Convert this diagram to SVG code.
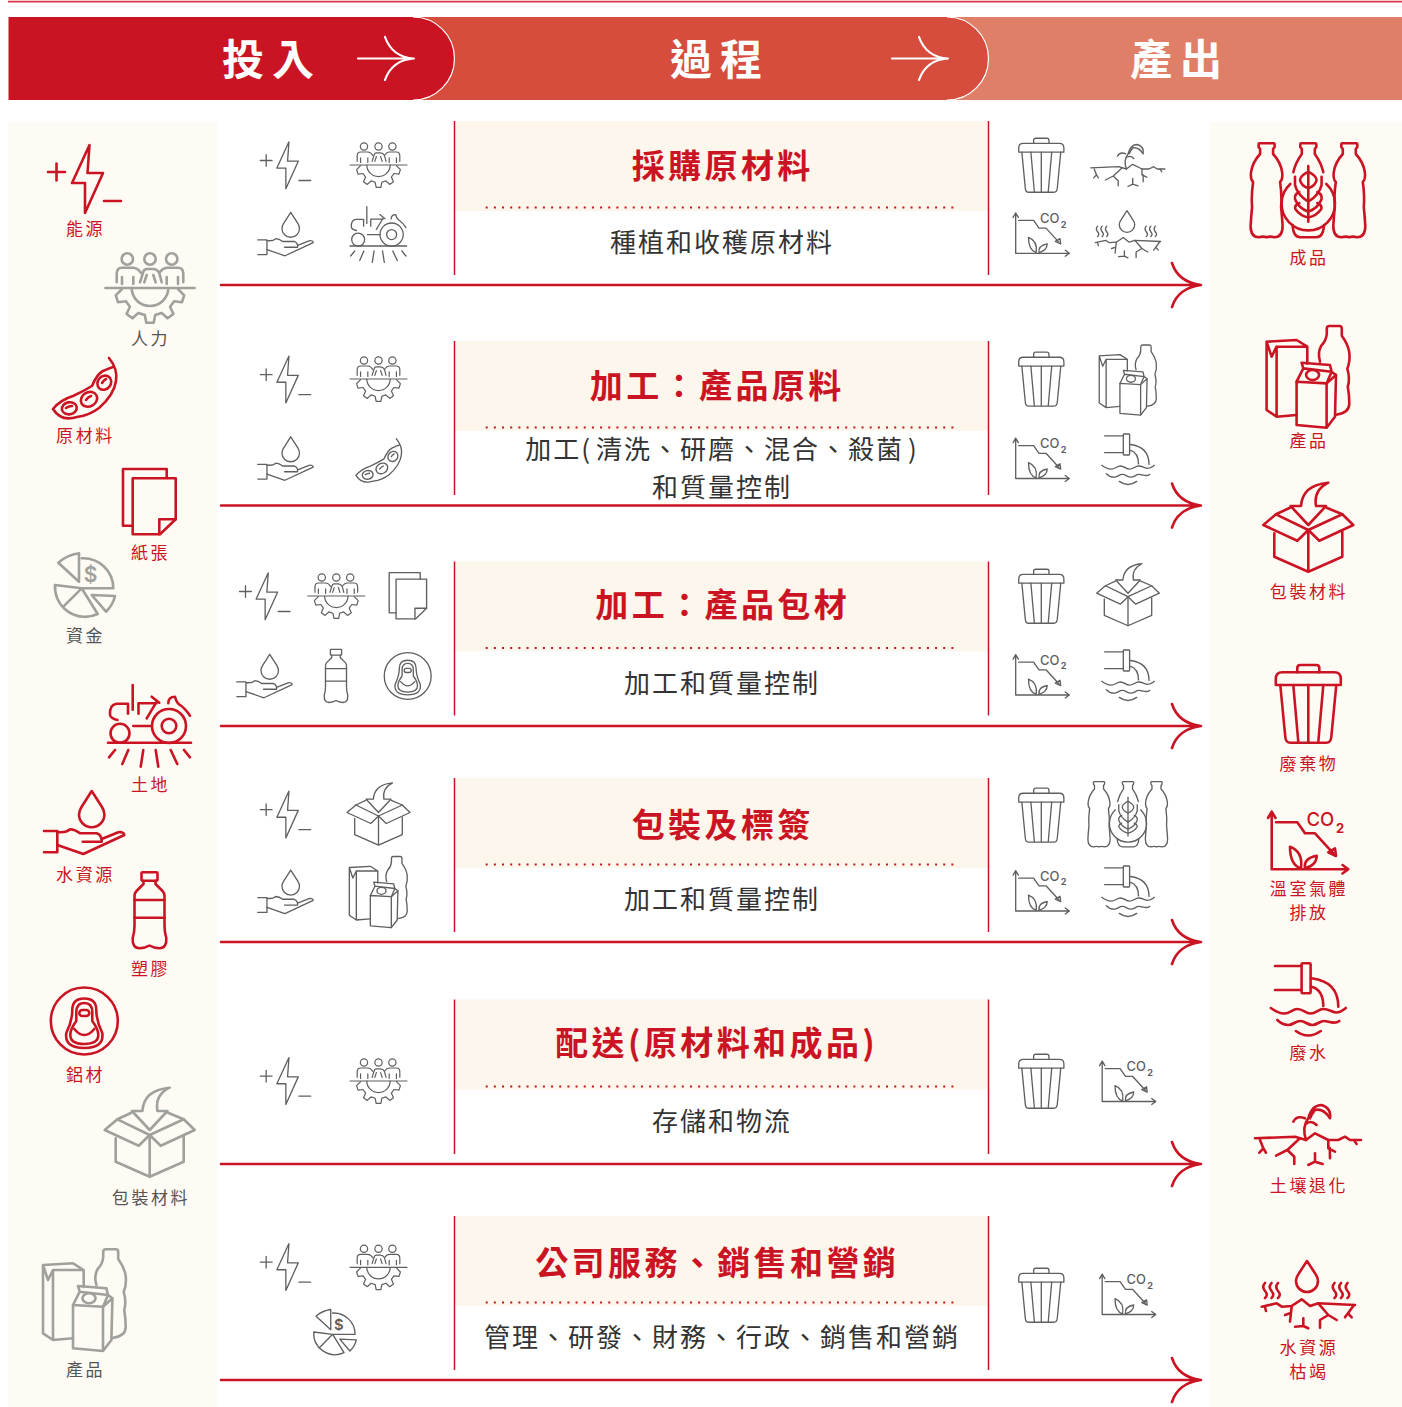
<svg xmlns="http://www.w3.org/2000/svg" xmlns:xlink="http://www.w3.org/1999/xlink" width="1402" height="1407" viewBox="0 0 1402 1407">
<style>
text{font-family:"Noto Sans CJK TC","Noto Sans",sans-serif}
.hd{font-size:42px;font-weight:700;fill:#fff;letter-spacing:8px;text-anchor:middle}
.ti{font-size:33px;font-weight:700;fill:#cb1423;letter-spacing:3.4px;text-anchor:middle}
.su{font-size:26px;fill:#333;letter-spacing:2px;text-anchor:middle;transform:translateY(-.6px)}
.lb{font-size:17px;letter-spacing:2.6px;text-anchor:middle;transform:translateY(-.7px)}
.lr{fill:#cb1423}.lg{fill:#555}
.ic{fill:none;stroke:currentColor;stroke-linecap:round;stroke-linejoin:round}
.b{stroke-width:2.6}.s{stroke-width:1.9}
.r{color:#cb1423}.g{color:#a0a09c}.d{color:#5f5f5f}
.co{font-family:"Inter","Open Sans",sans-serif;stroke:none;fill:currentColor}
.v{stroke:#cb1423;stroke-width:1.5;fill:none}
.dot{stroke:#cb1423;stroke-width:2;stroke-dasharray:2 6.17;fill:none}
.blk{fill:#fdf6ec}
.pan{fill:#fefbf5}
.ha{fill:none;stroke:#fff;stroke-width:2.2;stroke-linecap:round}
.rl{fill:none;stroke:#cb1423;stroke-width:2.6;stroke-linecap:round}
</style>
<defs>
<g id="i-energy"><path d="M5,-34 L-12.5,4 H.5 V34 L18.5,-6 H3 Z"/><path d="M-36.5,-7 H-19.5 M-28,-15.5 V1.5 M19.5,22 H36.5"/></g>
<g id="i-people"><path d="M-44.5,0 H44.5"/><circle cx="-22.7" cy="-29" r="5.7"/><circle cx="0" cy="-29" r="5.7"/><circle cx="21.7" cy="-29" r="5.7"/>
<path d="M-33.3,-5.7 V-14.7 Q-33,-20.3 -28,-20.3 H-16.7 Q-12,-20 -9,-15 M-28,-11 V-4 M-16.7,-11 V-4"/><path d="M-10,-5.7 L-6.7,-16 Q-6,-19 -3,-19 H3 Q7,-19 9.3,-15 L11.7,-5.700 M-3.300,-13 L-5.700,-5.700 M3.300,-13 L5.700,-5.700"/><path d="M33.300,-5.700 V-14.700 Q33,-20.300 28,-20.300 H16.700 Q13,-20 10,-16 M28,-11 V-4 M16.700,-11 V-4"/>
<path d="M-18.300,0 A18.300,18 0 0 0 18.300,0"/><path d="M28,1 L34.2,7.3 32,14.2 24.1,13.3 20.1,18.8 23.4,26 17.5,30.3 11.6,24.9 5.2,27 3.7,34.8 -3.7,34.8 -5.2,27 -11.6,24.9 -17.5,30.3 -23.4,26 -20.1,18.8 -24.1,13.3 -32,14.2 -34.2,7.3 -28,1"/></g>
<g id="i-bean"><path d="M24,-31 Q33,-20 31,-8 Q29,6 14,19 Q5,26 -8,28 Q-24,33 -32,20 Q-25,11 -12,7 Q-3,3 7,-3 Q12,-15 18,-18 Q25,-21 28,-22"/><ellipse cx="-15.7" cy="19.3" rx="7.5" ry="6" transform="rotate(-10 -15.7 19.3)"/><ellipse cx="4" cy="10.3" rx="8.5" ry="7" transform="rotate(-30 4 10.3)"/><ellipse cx="19.3" cy="-6.3" rx="7.5" ry="6.5" transform="rotate(-50 19.3 -6.3)"/><path d="M-19,19 Q-16,17 -13,17 M1,11 Q3,8 6,7 M17,-6 Q19,-9 21,-10"/></g>
<g id="i-paper"><path d="M17.2,-24 V-33 H-26.5 V23.7 H-17"/><path d="M-16.8,-23.7 H26.2 V17.3 L10.5,32.3 H-16.8 Z"/><path d="M26.2,17.3 H9.8 V32.3"/></g>
<g id="i-pie"><path d="M-5,-3.3 L-25.7,-22.3 Q-17,-30 -5,-31.7 Z"/><path d="M-2.3,-26.7 A30,30 0 0 1 29.3,3.3 H-2.3 L-29,0 A30,30 0 0 0 13.7,29 L-2.3,3.3 L-20.7,21.7"/><path d="M7.7,10 L31,11 Q29,20 22,26.7 Z"/><text class="co" x="6.5" y="-3.500" font-size="21" font-weight="600" text-anchor="middle">$</text></g>
<g id="i-tractor"><path d="M-41.5,0 H41.5"/><circle cx="19.5" cy="-16.7" r="17"/><circle cx="19.5" cy="-16.7" r="7.3"/><circle cx="-29.5" cy="-9.4" r="9.5"/><path d="M-16.2,-16.7 H2.2"/><path d="M-32,-22.7 Q-39,-24 -39.5,-28 Q-40,-38 -33,-39 H-21.5 V-29"/><path d="M-16.8,-57.7 V-33 M-11,-29 V-39.4 H7 M2.2,-46 L9.8,-40 M-2.8,-24.4 L7.2,-41"/><path d="M18.8,-39.4 Q18.8,-46 25.5,-46 Q27.2,-39.4 30.5,-37.7 Q35.5,-34.4 40.5,-27"/><path d="M-34.5,7.3 L-40.5,14.6 M-21.2,7.3 L-27.2,21.3 M-6.2,7.3 L-8.8,24 M6.2,7.3 L8.8,24 M21.2,7.3 L27.8,21.3 M34.5,7.3 L40.5,14.6"/></g>
<g id="i-hand"><path d="M7.7,-39 L-2.5,-23 Q-5,-19 -5,-15.5 A12.7,12.7 0 0 0 20.4,-15.5 Q20.4,-19 18,-23 Z"/><path d="M-40,1 H-26.7 V22.3 H-40"/><path d="M-26.7,2 Q-18,3 -14,-.7 Q-9,-.5 -4,3.3 H12.7 Q18,5 17.7,11.7 H-1.3"/><path d="M17.7,9 L34.3,2.3 Q40,1.5 40.3,5 L-.7,24 L-26.7,15"/></g>
<g id="i-bottle"><rect x="-8" y="-37.7" width="16" height="8.4" rx="1"/><path d="M-6,-29.3 V-26 L-13,-19 Q-15,-17 -15,-14 V16 Q-15,22 -16.8,28 Q-17.5,38 -10,38.3 Q-4,38 0,35.5 Q4,38 10,38.3 Q17.5,38 16.8,28 Q15,22 15,16 V-14 Q15,-17 13,-19 L6,-26 V-29.3"/><path d="M-15,-10 H15 M-15,7.7 H15"/></g>
<g id="i-can"><circle r="33.5"/><path d="M0,-22.5 Q-12,-22.5 -12,-11 Q-12,0 -18,12 Q-20,27 0,27 Q20,27 18,12 Q12,0 12,-11 Q12,-22.5 0,-22.5 Z"/><path d="M0,-18 Q-8,-18 -8,-9 V0 Q-14,8 -14,14 Q-14,23 0,23 Q14,23 14,14 Q14,8 8,0 V-9 Q8,-18 0,-18 Z"/><rect x="-5" y="-11" width="10" height="6" rx="3"/><path d="M-10,8 Q0,20 10,8"/></g>
<g id="i-box"><path d="M-34,3.3 V26.7 L0,41.7 L34,26.7 V1.7 M0,0 V41.7"/><path d="M0,0 L-11,10.7 L-45,-5 L-32.3,-15.7 L0,0 M0,0 L11,10.7 L45,-5 L34,-15.7 L0,0"/><path d="M-32.3,-15.7 L-18.3,-22.3 M34,-15.7 L18.3,-22.3"/><path d="M0,-5 L-17.7,-24 H-7.3 Q-6,-45 20,-47.3 Q5,-40 7.7,-24 H17.7 Z"/></g>
<g id="i-trash"><path d="M-11,-27.7 V-32 Q-11,-35 -8,-35 H8 Q11,-35 11,-32 V-27.7"/><path d="M-32.5,-15 V-21 Q-32.5,-27.7 -26,-27.7 H26 Q32.5,-27.7 32.5,-21 V-15 Z"/><path d="M-28,-15 L-23,37 Q-22.5,42.7 -18,42.7 H18 Q22.5,42.7 23,37 L28,-15"/><path d="M-15,-15 L-10,42 M0,-15 V42 M15,-15 L10,42"/></g>
<g id="i-co2"><path d="M-38.3,29.3 V-28.3 M-42,-22 L-38.3,-28.3 L-34.5,-22 M-38.3,29.3 H38.3 M32.5,25 L38.3,29.3 L32.5,33.5"/><path d="M-34,-17.7 H-12.7 L-5,-6.7 H5 L23.3,13.3"/><path d="M26,16 L18.3,12.3 L25,8.3 Z"/><path d="M-9,28.3 Q-20,25 -20,6.7 Q-6.7,11.7 -9,28.3 Z"/><path d="M-5,28.3 Q-6.7,18.3 6.7,15.7 Q6.7,25 -5,28.3 Z"/><text class="co" x="-3.500" y="-13.800" font-size="18.500" font-weight="500">CO</text><text class="co" x="26" y="-7.200" font-size="13" font-weight="700">2</text></g>
<g id="i-waste"><path d="M-33.3,-32 H-6.7 M-33.3,-8 H-6.7"/><rect x="-6.7" y="-34.7" width="9" height="30" rx="1"/><path d="M3.3,-19.7 Q30,-16.3 30,8.7 M3.3,-11.3 Q15,-8 15,8"/><path d="M-37.5,10 C-32,14 -28,15.5 -24,15.5 C-18,15.5 -16,11 -11,11 C-5,11 -3,15.5 2,15.5 C8,15.5 10,11 15,11 C21,11 24,14.5 28,14.5 C32,14.5 35,12 37.5,10"/><path d="M-31,22 C-27,26 -24,27 -20,27 C-15,27 -13,23 -8,23 C-3,23 -1,27 4,27 C9,27 11,23 16,23 C20,23 26,27 31,23"/><path d="M-12.5,33 Q0,42 12.5,33"/></g>
<g id="i-soil"><path d="M-53.3,-1.7 L-13.3,-3.3 L-2.3,0 L6.7,-6.7 L20,0 H30 L36.7,-3.3 L41.7,0 H52.7"/><path d="M-48.3,0 L-45,8.3 L-49,12.7 M-45,8.3 L-42.3,12.7"/><path d="M-8.3,-1.7 L-21,10 L-32.3,15.7 M-21,10 L-14,16.7 V24"/><path d="M6.7,13.3 V21.7 M0,25 L6.7,21.7 L14.3,24"/><path d="M20,0 V8.3 L26.7,11.7 M21.5,8 L21.7,18.3"/><path d="M45.7,0 L48.3,4"/><path d="M-2.3,0 Q-6.7,-13 0,-21.7 Q3.5,-35 13.3,-35 Q23.3,-31.7 21.7,-21.7 Q15,-32 6.7,-30 Q3.5,-26 1.7,-21.7"/><path d="M-15,-18.3 Q-11.7,-25 -3.3,-21.7 M-1.7,-16.7 Q3.3,-20 8.3,-15"/></g>
<g id="i-dep"><path d="M0,-44 L-8.5,-31 Q-11,-27.5 -11,-24 A11,11 0 0 0 11,-24 Q11,-27.5 8.5,-31 Z"/><path d="M-45.3,1.7 L-30.3,-1.7 L-25.3,1.7 L-15.3,1 L-5.3,-5.7 L3,1 L11.3,-1.7 L48,0"/><path d="M-15.3,1 L-17,16.7 M-17,8.3 L-22,10"/><path d="M-3.7,13.3 V21 M-12,21.7 L-3.7,21 L1.3,23.3"/><path d="M11.3,-1.7 L21.3,10 L13,15 V22.7 M21.3,10 L29.7,15"/><path d="M47,0 L41,8.3 L38,12.3 M41,8.3 L44.7,12.3"/><path d="M-42,2 L-41,6"/><path d="M-42,-22 q-3.500,4 0,8 q3.500,4 0,7 M-35.500,-22 q-3.500,4 0,8 q3.500,4 0,7 M-29,-22 q-3.500,4 0,8 q3.500,4 0,7 M27.500,-22 q-3.500,4 0,8 q3.500,4 0,7 M34,-22 q-3.500,4 0,8 q3.500,4 0,7 M40.500,-22 q-3.500,4 0,8 q3.500,4 0,7"/></g>
<path id="p-bot" d="M-8,-46 Q-8,-46.700 -7,-46.700 H7 Q8,-46.700 8,-46 V-43 L6.500,-41 V-36 Q14,-28 15.500,-18 Q16.500,-11 13.500,-8 Q15.500,6 14.500,17 Q15.500,27 16,36 Q16,47 8,47.300 Q3,46 0,47.300 Q-3,46 -8,47.300 Q-16,47 -16,36 Q-15.500,27 -14.500,17 Q-15.500,6 -13.500,-8 Q-16.500,-11 -15.500,-18 Q-14,-28 -6.500,-36 V-41 L-8,-43 Z"/>
<g id="i-bottles"><use href="#p-bot" x="-41.7"/><use href="#p-bot" x="41"/><path d="M-15,-17.700 Q-13,-27 -6.500,-36 V-41 L-8,-43 V-46 Q-8,-46.700 -7,-46.700 H7 Q8,-46.700 8,-46 V-43 L6.500,-41 V-36 Q13,-27 15,-17.700"/><path d="M-15.700,35 Q-15,47.300 -8,47.300 H8 Q15,47.300 15.700,35"/><path d="M0,-24 V31.700"/><path d="M0,-18.300 Q-8,-14 -8.300,-10 Q-7,-4 0,-1.700 Q7,-4 8.300,-10 Q8,-14 0,-18.300 Z"/><path d="M-13.300,-13.300 V-5 Q-11,5 0,11.700 Q11,5 13.300,-5 V-13.300"/><path d="M-9,2 Q-14,4 -13.300,9 Q-10,18 0,21.700 Q10,18 13.300,9 Q14,4 9,2"/><path d="M-9,13 Q-14,15 -13,19 Q-8,26 0,27.500 Q8,26 13,19 Q14,15 9,13"/><path d="M-18,-6 A26.700,26.700 0 1 0 18,-6"/></g>
<g id="i-prod"><path d="M-1,-13 V-30 L-11.7,-36.7 L-41.7,-35 V33.3 L-31.7,40 L-11.7,38.3 M-31.7,40 V-30 H-1 M-41.7,-35 L-36.7,-20 L-31.7,-30"/><path d="M-11.7,5 L18.3,6.7 V51 L-11.7,48.3 Z M18.3,6.7 L27.7,-1.7 L26.7,40 L18.3,51"/><path d="M-11.7,5 L-5,-8.3 L-6.7,-14 L21.7,-11.7 L23.3,-5 L18.3,6.7 M-5,-8.3 L23.3,-5 L27.7,-1.7"/><ellipse cx="4.3" cy="-1.7" rx="6.5" ry="5"/><path d="M11.7,-15 Q9,-24 13,-31 Q18,-36 18.5,-43 V-48 Q18.5,-50.7 21,-50.7 H31 Q33.5,-50.7 33.5,-48 V-41 Q40,-32 41,-24 Q42,-15 39,-8 Q42,2 39.5,10 Q41,18 41,27 Q41,36 28,38"/></g>
</defs>
<rect width="1402" height="1407" fill="#fff"/>
<path d="M8,1.7 H1402" stroke="#d9374a" stroke-width="1.7"/>
<g id="header">
<rect x="400" y="17" width="1002" height="83" fill="#e07f68"/>
<path d="M400,17 H947 A41.5,41.5 0 0 1 947,100 H400 Z" fill="#d64d3e"/>
<path d="M947,17 A41.5,41.5 0 0 1 947,100" fill="none" stroke="#fff" stroke-width="1.2"/>
<path d="M8.500,17 H413 A41.500,41.500 0 0 1 413,100 H8.500 Z" fill="#cb1423"/>
<path d="M413,17 A41.500,41.500 0 0 1 413,100" fill="none" stroke="#fff" stroke-width="1.2"/>
<text class="hd" x="272" y="75">投入</text>
<path class="ha" d="M358,58.500 H414 M385,37 Q392,57 414,58.500 Q392,60 385,80"/>
<text class="hd" x="720" y="75">過程</text>
<path class="ha" d="M892,58.500 H948 M919,37 Q926,57 948,58.500 Q926,60 919,80"/>
<text class="hd" x="1180" y="75">產出</text>
</g>
<rect class="pan" x="8" y="122" width="209" height="1285"/>
<rect class="pan" x="1210" y="122" width="192" height="1285"/>

<g id="input-energy"><use href="#i-energy" class="ic b r" transform="translate(84.500,179)"/><text class="lb lr" x="85.500" y="236">能源</text></g>
<g id="input-labour"><use href="#i-people" class="ic b g" transform="translate(150,288)"/><text class="lb lg" x="150.500" y="346">人力</text></g>
<g id="input-material"><use href="#i-bean" class="ic b r" transform="translate(85,389)"/><text class="lb lr" x="85.500" y="443">原材料</text></g>
<g id="input-paper"><use href="#i-paper" class="ic b r" transform="translate(149.500,502)"/><text class="lb lr" x="150.500" y="560">紙張</text></g>
<g id="input-capital"><use href="#i-pie" class="ic b g" transform="translate(84,585)"/><text class="lb lg" x="85.500" y="643">資金</text></g>
<g id="input-land"><use href="#i-tractor" class="ic b r" transform="translate(149.500,742.700)"/><text class="lb lr" x="150.500" y="792">土地</text></g>
<g id="input-water"><use href="#i-hand" class="ic b r" transform="translate(84,830)"/><text class="lb lr" x="85.500" y="882">水資源</text></g>
<g id="input-plastic"><use href="#i-bottle" class="ic b r" transform="translate(149.500,910)"/><text class="lb lr" x="150.500" y="976">塑膠</text></g>
<g id="input-aluminium"><use href="#i-can" class="ic b r" transform="translate(84.300,1021)"/><text class="lb lr" x="85.500" y="1082">鋁材</text></g>
<g id="input-packaging"><use href="#i-box" class="ic b g" transform="translate(149.700,1135)"/><text class="lb lg" x="151" y="1205">包裝材料</text></g>
<g id="input-products"><use href="#i-prod" class="ic b g" transform="translate(84.700,1300)"/><text class="lb lg" x="85.500" y="1377">產品</text></g>

<g id="output-finished"><use href="#i-bottles" class="ic b r" transform="translate(1308.300,190)"/><text class="lb lr" x="1309" y="265">成品</text></g>
<g id="output-products"><use href="#i-prod" class="ic b r" transform="translate(1308.300,376.700)"/><text class="lb lr" x="1309" y="448">產品</text></g>
<g id="output-packaging"><use href="#i-box" class="ic b r" transform="translate(1308.300,530)"/><text class="lb lr" x="1309" y="599">包裝材料</text></g>
<g id="output-waste"><use href="#i-trash" class="ic b r" transform="translate(1308.300,700)"/><text class="lb lr" x="1309" y="771">廢棄物</text></g>
<g id="output-ghg"><use href="#i-co2" class="ic b r" transform="translate(1310,840)"/><text class="lb lr" x="1309" y="896">溫室氣體</text><text class="lb lr" x="1309" y="920">排放</text></g>
<g id="output-wastewater"><use href="#i-waste" class="ic b r" transform="translate(1308.300,998)"/><text class="lb lr" x="1309" y="1060">廢水</text></g>
<g id="output-soil"><use href="#i-soil" class="ic b r" transform="translate(1308.300,1140)"/><text class="lb lr" x="1309" y="1193">土壤退化</text></g>
<g id="output-depletion"><use href="#i-dep" class="ic b r" transform="translate(1307,1305)"/><text class="lb lr" x="1309" y="1355">水資源</text><text class="lb lr" x="1309" y="1379">枯竭</text></g>

<g id="stage-1">
<rect class="blk" x="455" y="121" width="533" height="90"/><path class="v" d="M454.500,121 V275 M988.500,121 V275"/><path class="dot" d="M485.700,207.500 H958"/>
<text class="ti" x="722.700" y="178">採購原材料</text><text class="su" x="722" y="253">種植和收穫原材料</text>
<g class="ic s d"><use href="#i-energy" transform="translate(285.500,165.300) scale(.69)"/><use href="#i-people" transform="translate(378.500,165) scale(.64)"/><use href="#i-hand" transform="translate(285.400,239.200) scale(.69)"/><use href="#i-tractor" transform="translate(378.300,246) scale(.683)"/><use href="#i-trash" transform="translate(1041.300,162.600) scale(.695)"/><use href="#i-soil" transform="translate(1128,169) scale(.7)"/><use href="#i-co2" transform="translate(1042.500,232.800) scale(.7)"/><use href="#i-dep" transform="translate(1127,241.500) scale(.7)"/></g>
</g>
<g id="stage-2">
<rect class="blk" x="455" y="341" width="533" height="90"/><path class="v" d="M454.500,341 V495 M988.500,341 V495"/><path class="dot" d="M485.700,427.500 H958"/>
<text class="ti" x="717.200" y="398">加工：產品原料</text><text class="su" x="722" y="460">加工(<tspan dx="4">清洗、研磨、混合、殺菌</tspan><tspan dx="4">)</tspan></text><text class="su" x="722" y="498">和質量控制</text>
<g class="ic s d"><use href="#i-energy" transform="translate(285.500,379.500) scale(.69)"/><use href="#i-people" transform="translate(378.500,379) scale(.64)"/><use href="#i-hand" transform="translate(285.400,463.700) scale(.69)"/><use href="#i-bean" transform="translate(379,461) scale(.72)"/><use href="#i-trash" transform="translate(1041.300,376.500) scale(.695)"/><use href="#i-prod" transform="translate(1128,380) scale(.69)"/><use href="#i-co2" transform="translate(1042.500,458) scale(.7)"/><use href="#i-waste" transform="translate(1128,458.300) scale(.7)"/></g>
</g>
<g id="stage-3">
<rect class="blk" x="455" y="561.500" width="533" height="90"/><path class="v" d="M454.500,561.500 V715.500 M988.500,561.500 V715.500"/><path class="dot" d="M485.700,648 H958"/>
<text class="ti" x="722.700" y="617">加工：產品包材</text><text class="su" x="722" y="694">加工和質量控制</text>
<g class="ic s d"><use href="#i-energy" transform="translate(264.800,596.300) scale(.69)"/><use href="#i-people" transform="translate(336.300,596) scale(.64)"/><use href="#i-paper" transform="translate(408,596) scale(.71)"/><use href="#i-hand" transform="translate(264.400,681.200) scale(.69)"/><use href="#i-bottle" transform="translate(336,675.700) scale(.7)"/><use href="#i-can" transform="translate(407.700,676) scale(.7)"/><use href="#i-trash" transform="translate(1041.300,593.600) scale(.695)"/><use href="#i-box" transform="translate(1128,596.700) scale(.697)"/><use href="#i-co2" transform="translate(1042.500,674.500) scale(.7)"/><use href="#i-waste" transform="translate(1128,674.300) scale(.7)"/></g>
</g>
<g id="stage-4">
<rect class="blk" x="455" y="778" width="533" height="90"/><path class="v" d="M454.500,778 V932 M988.500,778 V932"/><path class="dot" d="M485.700,864.500 H958"/>
<text class="ti" x="722.700" y="837">包裝及標簽</text><text class="su" x="722" y="910">加工和質量控制</text>
<g class="ic s d"><use href="#i-energy" transform="translate(285.500,814.500) scale(.69)"/><use href="#i-box" transform="translate(378.500,816) scale(.7)"/><use href="#i-hand" transform="translate(285.400,897) scale(.69)"/><use href="#i-prod" transform="translate(378.500,892) scale(.7)"/><use href="#i-trash" transform="translate(1041.300,812.500) scale(.695)"/><use href="#i-bottles" transform="translate(1128,814) scale(.695)"/><use href="#i-co2" transform="translate(1042.500,890.500) scale(.7)"/><use href="#i-waste" transform="translate(1128,890.300) scale(.7)"/></g>
</g>
<g id="stage-5">
<rect class="blk" x="455" y="999.500" width="533" height="90"/><path class="v" d="M454.500,999.500 V1154 M988.500,999.500 V1154"/><path class="dot" d="M485.700,1086.500 H958"/>
<text class="ti" x="716.700" y="1055">配送(原材料和成品)</text><text class="su" x="722" y="1132">存儲和物流</text>
<g class="ic s d"><use href="#i-energy" transform="translate(285.500,1081) scale(.69)"/><use href="#i-people" transform="translate(378.500,1081) scale(.64)"/><use href="#i-trash" transform="translate(1041.300,1078.600) scale(.695)"/><use href="#i-co2" transform="translate(1129,1081) scale(.7)"/></g>
</g>
<g id="stage-6">
<rect class="blk" x="455" y="1216" width="533" height="90"/><path class="v" d="M454.500,1216 V1370 M988.500,1216 V1370"/><path class="dot" d="M485.700,1302.500 H958"/>
<text class="ti" x="717.200" y="1275">公司服務、銷售和營銷</text><text class="su" x="722" y="1348">管理、研發、財務、行政、銷售和營銷</text>
<g class="ic s d"><use href="#i-energy" transform="translate(285.500,1267) scale(.69)"/><use href="#i-people" transform="translate(378.500,1267.300) scale(.64)"/><use href="#i-pie" transform="translate(334.300,1332) scale(.71)"/><use href="#i-trash" transform="translate(1041.300,1292.600) scale(.695)"/><use href="#i-co2" transform="translate(1129,1294) scale(.7)"/></g>
</g>

<g id="connectors">
<path class="rl" d="M221,285 H1201 M1172,263 Q1178,282 1201,285 Q1178,288 1172,307"/>
<path class="rl" d="M221,505.500 H1201 M1172,483.500 Q1178,502.500 1201,505.500 Q1178,508.500 1172,527.500"/>
<path class="rl" d="M221,726 H1201 M1172,704 Q1178,723 1201,726 Q1178,729 1172,748"/>
<path class="rl" d="M221,942 H1201 M1172,920 Q1178,939 1201,942 Q1178,945 1172,964"/>
<path class="rl" d="M221,1164 H1201 M1172,1142 Q1178,1161 1201,1164 Q1178,1167 1172,1186"/>
<path class="rl" d="M221,1380 H1201 M1172,1358 Q1178,1377 1201,1380 Q1178,1383 1172,1402"/>
</g>
</svg>
